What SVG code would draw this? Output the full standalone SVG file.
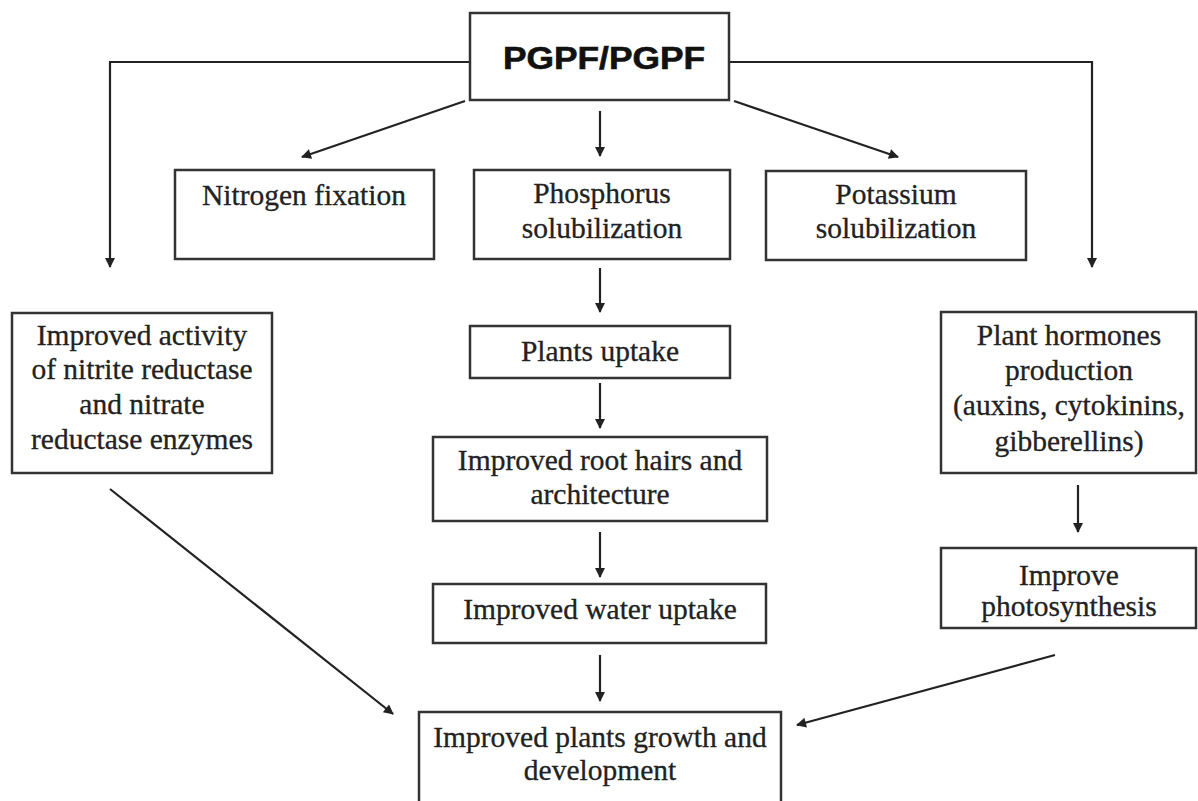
<svg xmlns="http://www.w3.org/2000/svg" width="1198" height="801" viewBox="0 0 1198 801">
<style>
.box{fill:#fff;stroke:#333;stroke-width:2.5}
.t{font-family:"Liberation Serif","Times New Roman",serif;font-size:29.5px;fill:#222;stroke:#222;stroke-width:0.3;text-anchor:middle}
.c{fill:none;stroke:#222;stroke-width:2.2}
</style>
<defs>
<marker id="ah" viewBox="0 0 10 10" refX="9" refY="5" markerWidth="12" markerHeight="10" markerUnits="userSpaceOnUse" orient="auto">
<path d="M0,0 L10,5 L0,10 z" fill="#222"/>
</marker>
</defs>
<rect width="1198" height="801" fill="#fff"/>
<g id="connectors">
<path class="c" d="M470,62 H110 V267" marker-end="url(#ah)"/>
<path class="c" d="M729,62 H1092 V267" marker-end="url(#ah)"/>
<path class="c" d="M465,101 L302,157" marker-end="url(#ah)"/>
<path class="c" d="M600,111 V156" marker-end="url(#ah)"/>
<path class="c" d="M734,101 L898,157" marker-end="url(#ah)"/>
<path class="c" d="M600,268 V312" marker-end="url(#ah)"/>
<path class="c" d="M600,383 V428" marker-end="url(#ah)"/>
<path class="c" d="M600,532 V577" marker-end="url(#ah)"/>
<path class="c" d="M600,655 V701" marker-end="url(#ah)"/>
<path class="c" d="M1078,485 V532" marker-end="url(#ah)"/>
<path class="c" d="M110,489 L393,714" marker-end="url(#ah)"/>
<path class="c" d="M1055,655 L797,725" marker-end="url(#ah)"/>
</g>
<g id="n-pgpf">
<rect class="box" x="470" y="13" width="259" height="87"/>
<text x="604" y="69" font-family="Liberation Sans,Arial,sans-serif" font-weight="bold" font-size="31" fill="#111" stroke="#111" stroke-width="0.6" text-anchor="middle" textLength="202" lengthAdjust="spacingAndGlyphs">PGPF/PGPF</text>
</g>
<g id="n-nitrogen">
<rect class="box" x="175" y="170" width="259" height="89"/>
<text class="t" x="304" y="205">Nitrogen fixation</text>
</g>
<g id="n-phosphorus">
<rect class="box" x="474" y="170" width="256" height="89"/>
<text class="t" x="602" y="203">Phosphorus</text>
<text class="t" x="602" y="238">solubilization</text>
</g>
<g id="n-potassium">
<rect class="box" x="766" y="171" width="260" height="89"/>
<text class="t" x="896" y="204">Potassium</text>
<text class="t" x="896" y="238">solubilization</text>
</g>
<g id="n-enzymes">
<rect class="box" x="12" y="313" width="260" height="160"/>
<text class="t" x="142" y="345">Improved activity</text>
<text class="t" x="142" y="379">of nitrite reductase</text>
<text class="t" x="142" y="414">and nitrate</text>
<text class="t" x="142" y="449">reductase enzymes</text>
</g>
<g id="n-uptake">
<rect class="box" x="470" y="326" width="260" height="52"/>
<text class="t" x="600" y="361">Plants uptake</text>
</g>
<g id="n-roothairs">
<rect class="box" x="433" y="437" width="334" height="84"/>
<text class="t" x="600" y="470">Improved root hairs and</text>
<text class="t" x="600" y="504">architecture</text>
</g>
<g id="n-water">
<rect class="box" x="433" y="584" width="333" height="59"/>
<text class="t" x="600" y="619">Improved water uptake</text>
</g>
<g id="n-growth">
<rect class="box" x="419" y="712" width="362" height="100"/>
<text class="t" x="600" y="747">Improved plants growth and</text>
<text class="t" x="600" y="780">development</text>
</g>
<g id="n-hormones">
<rect class="box" x="941" y="312" width="255" height="161"/>
<text class="t" x="1069" y="345">Plant hormones</text>
<text class="t" x="1069" y="380">production</text>
<text class="t" x="1069" y="415">(auxins, cytokinins,</text>
<text class="t" x="1069" y="451">gibberellins)</text>
</g>
<g id="n-photo">
<rect class="box" x="941" y="548" width="255" height="80"/>
<text class="t" x="1069" y="585">Improve</text>
<text class="t" x="1069" y="616">photosynthesis</text>
</g>
</svg>
